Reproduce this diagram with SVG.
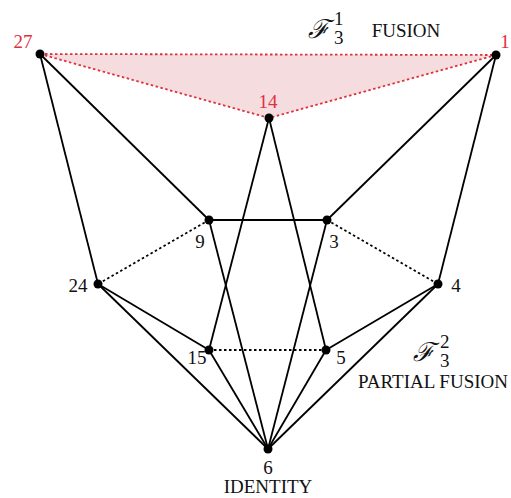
<svg xmlns="http://www.w3.org/2000/svg" width="511" height="498" viewBox="0 0 511 498">
<style>
.e{stroke:#000;stroke-width:1.8;fill:none}
.d{stroke:#000;stroke-width:1.8;fill:none;stroke-dasharray:2.5 2.5}
.r{stroke:#e0303c;stroke-width:1.8;fill:none;stroke-dasharray:2.5 2.5}
.n{fill:#000}
.t{font-family:"Liberation Serif","Times New Roman","DejaVu Serif",serif;font-size:19px;fill:#111}
.red{fill:#e0303c}
.s{font-family:"DejaVu Serif","Liberation Serif",serif;font-style:italic;font-size:26px;fill:#111}
</style>
<rect width="511" height="498" fill="#fff"/>
<polygon points="40,54 496,55 269,118" fill="#f4dcdf"/>
<g id="connectors">
<line class="r" x1="40" y1="54" x2="496" y2="55"/>
<line class="r" x1="40" y1="54" x2="269" y2="118"/>
<line class="r" x1="496" y1="55" x2="269" y2="118"/>
<line class="e" x1="40" y1="54" x2="98" y2="284"/>
<line class="e" x1="40" y1="54" x2="209" y2="220"/>
<line class="e" x1="496" y1="55" x2="438" y2="284"/>
<line class="e" x1="496" y1="55" x2="327" y2="220"/>
<line class="e" x1="269" y1="118" x2="209" y2="350"/>
<line class="e" x1="269" y1="118" x2="326" y2="350"/>
<line class="e" x1="209" y1="220" x2="327" y2="220"/>
<line class="d" x1="209" y1="220" x2="98" y2="284"/>
<line class="d" x1="327" y1="220" x2="438" y2="284"/>
<line class="e" x1="209" y1="220" x2="268" y2="449"/>
<line class="e" x1="327" y1="220" x2="268" y2="449"/>
<line class="e" x1="98" y1="284" x2="209" y2="350"/>
<line class="e" x1="98" y1="284" x2="268" y2="449"/>
<line class="e" x1="438" y1="284" x2="326" y2="350"/>
<line class="e" x1="438" y1="284" x2="268" y2="449"/>
<line class="d" x1="209" y1="350" x2="326" y2="350"/>
<line class="e" x1="209" y1="350" x2="268" y2="449"/>
<line class="e" x1="326" y1="350" x2="268" y2="449"/>
</g>
<g id="n27"><circle class="n" cx="40" cy="54" r="4.5"/><text class="t red" x="23" y="48" text-anchor="middle">27</text></g>
<g id="n1"><circle class="n" cx="496" cy="55" r="4.5"/><text class="t red" x="505" y="48" text-anchor="middle">1</text></g>
<g id="n14"><circle class="n" cx="269" cy="118" r="4.5"/><text class="t red" x="268" y="108" text-anchor="middle">14</text></g>
<g id="n9"><circle class="n" cx="209" cy="220" r="4.5"/><text class="t" x="200" y="248" text-anchor="middle">9</text></g>
<g id="n3"><circle class="n" cx="327" cy="220" r="4.5"/><text class="t" x="334" y="248" text-anchor="middle">3</text></g>
<g id="n24"><circle class="n" cx="98" cy="284" r="4.5"/><text class="t" x="78" y="292" text-anchor="middle">24</text></g>
<g id="n4"><circle class="n" cx="438" cy="284" r="4.5"/><text class="t" x="456" y="292" text-anchor="middle">4</text></g>
<g id="n15"><circle class="n" cx="209" cy="350" r="4.5"/><text class="t" x="197" y="364" text-anchor="middle">15</text></g>
<g id="n5"><circle class="n" cx="326" cy="350" r="4.5"/><text class="t" x="341" y="364" text-anchor="middle">5</text></g>
<g id="n6"><circle class="n" cx="268" cy="449" r="4.5"/><text class="t" x="268" y="474" text-anchor="middle">6</text><text class="t" x="268" y="493" text-anchor="middle" font-size="19">IDENTITY</text></g>
<g id="fusion"><text class="s" x="308" y="38">ℱ</text><text class="t" x="334" y="25" font-size="16">1</text><text class="t" x="334" y="44" font-size="16">3</text><text class="t" x="406" y="37" text-anchor="middle" font-size="18">FUSION</text></g>
<g id="partial"><text class="s" x="413" y="361">ℱ</text><text class="t" x="440" y="348" font-size="16">2</text><text class="t" x="440" y="367" font-size="16">3</text><text class="t" x="433" y="388" text-anchor="middle" font-size="20">PARTIAL FUSION</text></g>
</svg>
